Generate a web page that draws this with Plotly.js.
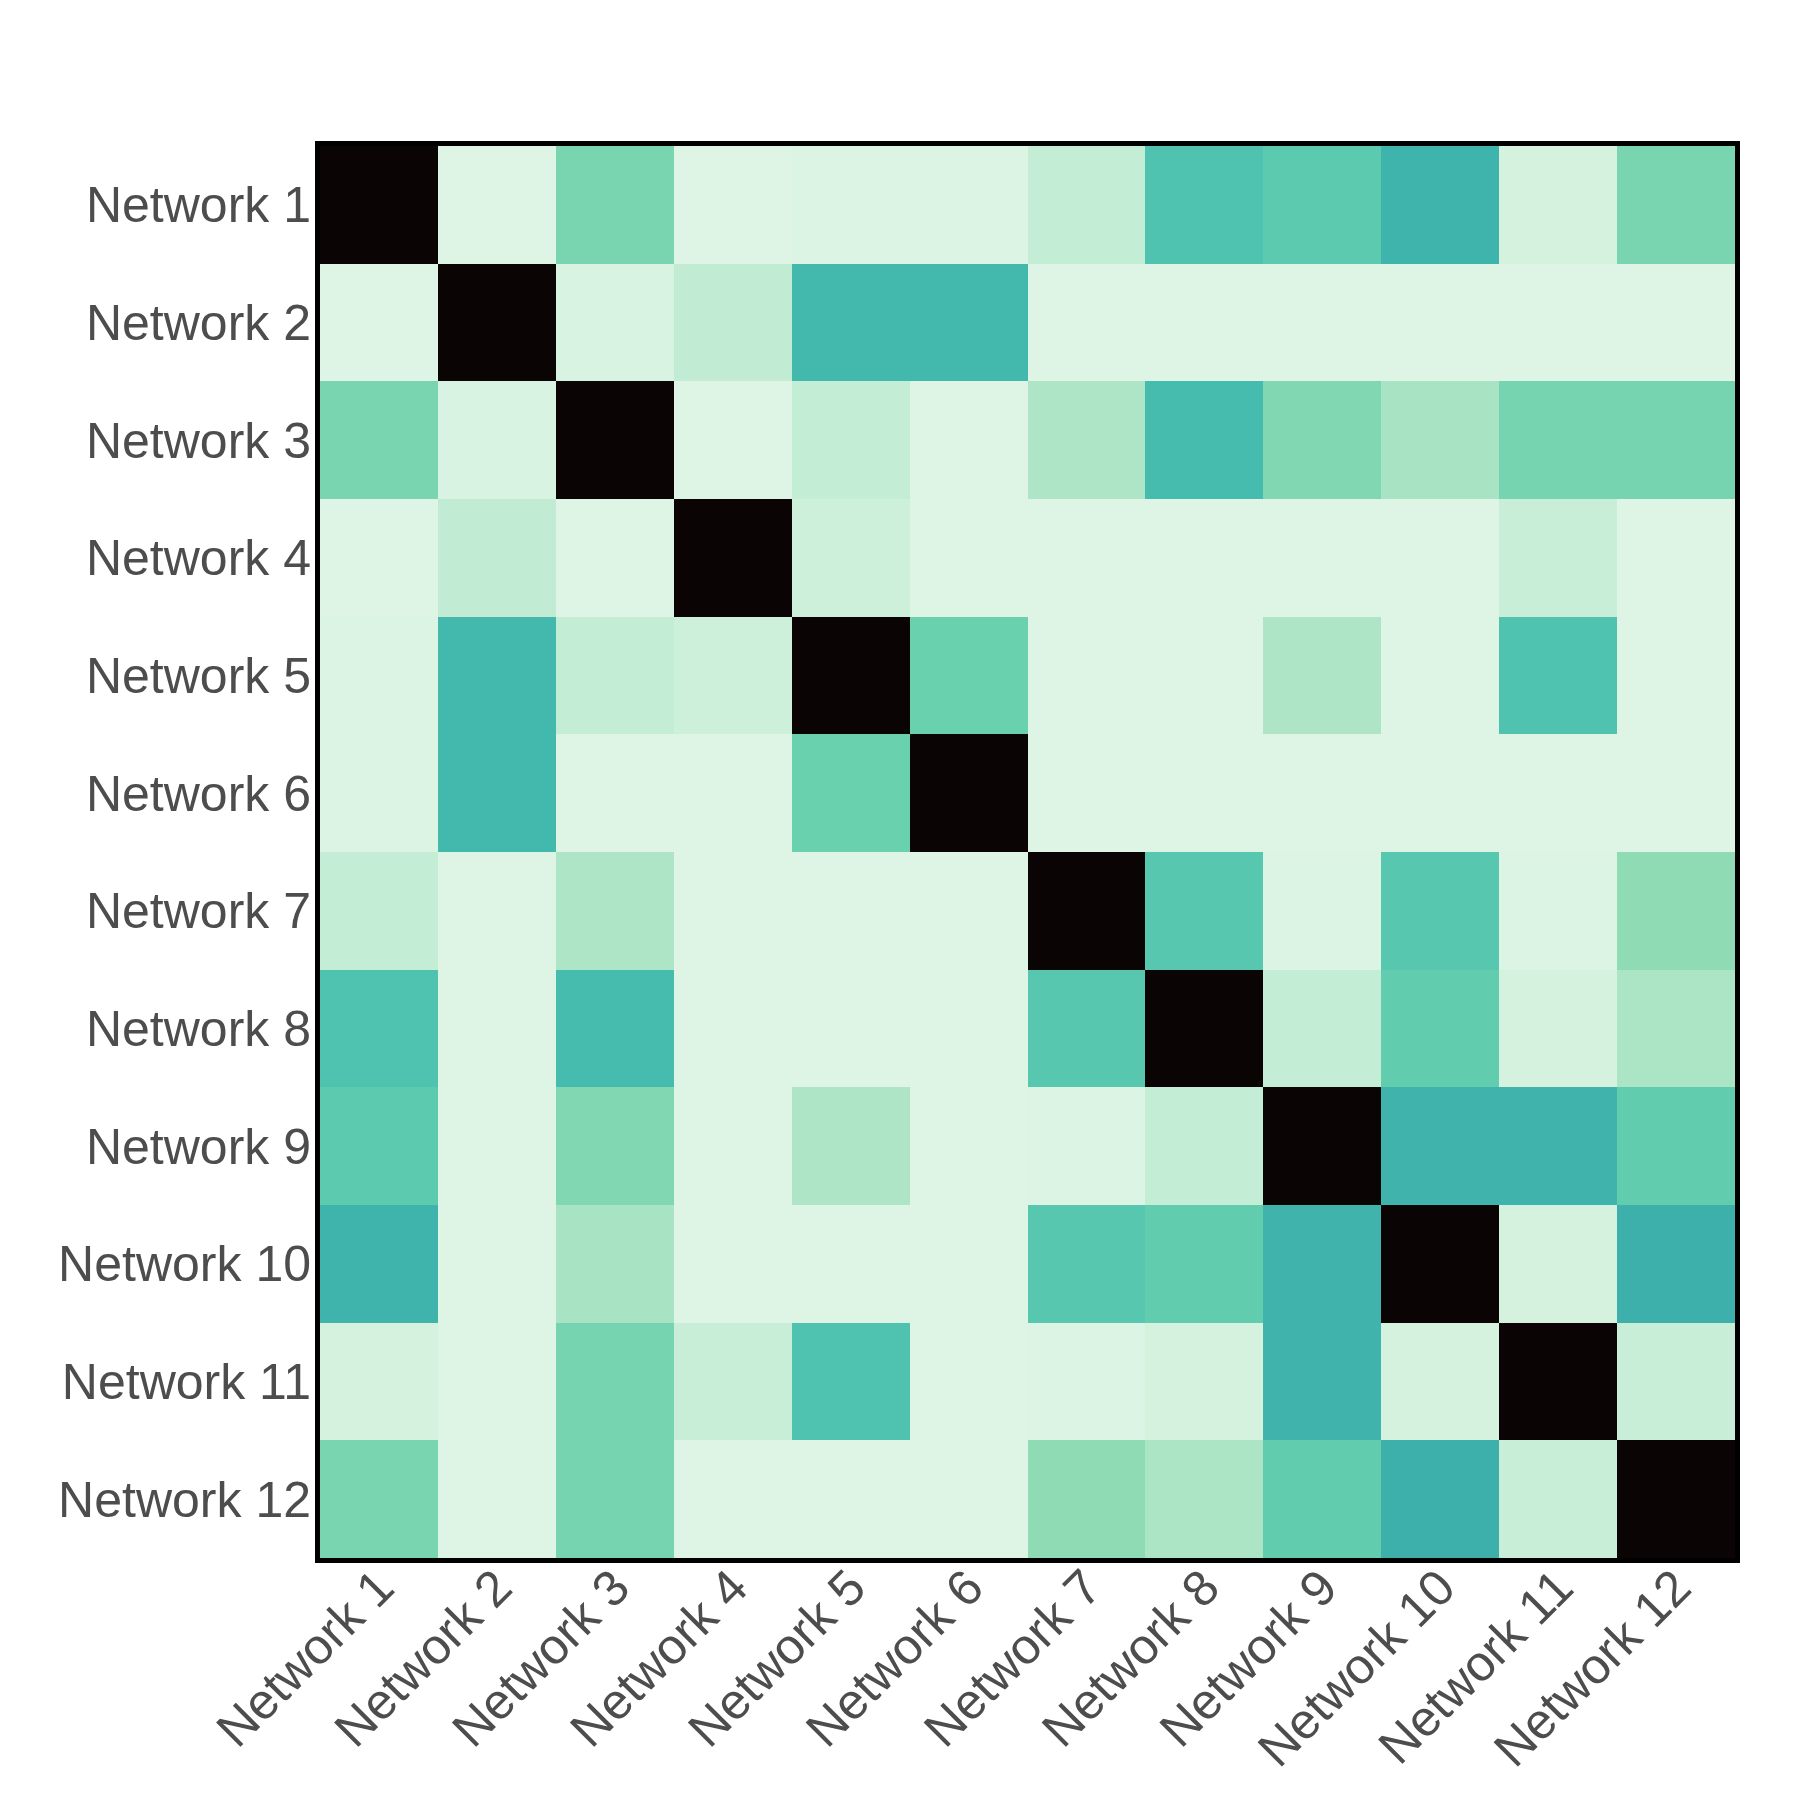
<!DOCTYPE html>
<html>
<head>
<meta charset="utf-8">
<script src="https://cdn.plot.ly/plotly-3.0.1.min.js"></script>
<style>html,body{margin:0;padding:0;background:#fff;}</style>
</head>
<body>
<div id="chart" style="width:1800px;height:1800px;"></div>
<script>
const networks = ["Network 1","Network 2","Network 3","Network 4","Network 5","Network 6",
                  "Network 7","Network 8","Network 9","Network 10","Network 11","Network 12"];

const row1  = [1.000, 0.000, 0.174, 0.000, 0.005, 0.005, 0.045, 0.255, 0.229, 0.297, 0.016, 0.174];
const row2  = [0.000, 1.000, 0.010, 0.050, 0.280, 0.280, 0.000, 0.000, 0.000, 0.000, 0.000, 0.000];
const row3  = [0.174, 0.010, 1.000, 0.000, 0.045, 0.000, 0.083, 0.274, 0.161, 0.093, 0.178, 0.178];
const row4  = [0.000, 0.050, 0.000, 1.000, 0.029, 0.000, 0.000, 0.000, 0.000, 0.000, 0.038, 0.000];
const row5  = [0.005, 0.280, 0.045, 0.029, 1.000, 0.197, 0.000, 0.000, 0.083, 0.000, 0.255, 0.000];
const row6  = [0.005, 0.280, 0.000, 0.000, 0.197, 1.000, 0.000, 0.000, 0.000, 0.000, 0.000, 0.000];
const row7  = [0.045, 0.000, 0.083, 0.000, 0.000, 0.000, 1.000, 0.238, 0.005, 0.238, 0.003, 0.136];
const row8  = [0.255, 0.000, 0.274, 0.000, 0.000, 0.000, 0.238, 1.000, 0.045, 0.214, 0.016, 0.086];
const row9  = [0.229, 0.000, 0.161, 0.000, 0.083, 0.000, 0.005, 0.045, 1.000, 0.300, 0.300, 0.214];
const row10 = [0.297, 0.000, 0.093, 0.000, 0.000, 0.000, 0.238, 0.214, 0.300, 1.000, 0.016, 0.310];
const row11 = [0.016, 0.000, 0.178, 0.038, 0.255, 0.000, 0.003, 0.016, 0.300, 0.016, 1.000, 0.036];
const row12 = [0.174, 0.000, 0.178, 0.000, 0.000, 0.000, 0.136, 0.086, 0.214, 0.310, 0.036, 1.000];

const zValues = [row1,row2,row3,row4,row5,row6,row7,row8,row9,row10,row11,row12];

// reversed "mako" colour scale (light mint -> teal -> blue -> purple -> black)
const makoR = [
  [0.000, "#DEF5E5"],
  [0.143, "#8BDAB2"],
  [0.200, "#68D0AE"],
  [0.245, "#54C7AF"],
  [0.286, "#40B7AD"],
  [0.429, "#348FA7"],
  [0.571, "#37659E"],
  [0.714, "#413D7B"],
  [0.857, "#2E1E3B"],
  [1.000, "#0B0405"]
];

const trace = {
  type: "heatmap",
  x: networks,
  y: networks,
  z: zValues,
  zmin: 0,
  zmax: 1,
  colorscale: makoR,
  showscale: false,
  xgap: 0,
  ygap: 0
};

const tickFont = {family: "Liberation Sans, Arial, Helvetica, sans-serif", size: 50, color: "#4d4d4d"};

const layout = {
  width: 1800,
  height: 1800,
  paper_bgcolor: "#ffffff",
  plot_bgcolor: "#ffffff",
  margin: {l: 320, r: 65, t: 146, b: 242, pad: 0},
  showlegend: false,
  xaxis: {
    type: "category",
    showline: true, mirror: true, linecolor: "#000000", linewidth: 5,
    showgrid: false, zeroline: false, ticks: "",
    tickangle: -45,
    ticklabelstandoff: -25,
    tickfont: tickFont
  },
  yaxis: {
    type: "category",
    autorange: "reversed",
    showline: true, mirror: true, linecolor: "#000000", linewidth: 5,
    showgrid: false, zeroline: false, ticks: "",
    ticklabelstandoff: -6,
    tickfont: tickFont
  }
};

Plotly.newPlot("chart", [trace], layout, {displayModeBar: false, staticPlot: true});
</script>
</body>
</html>
